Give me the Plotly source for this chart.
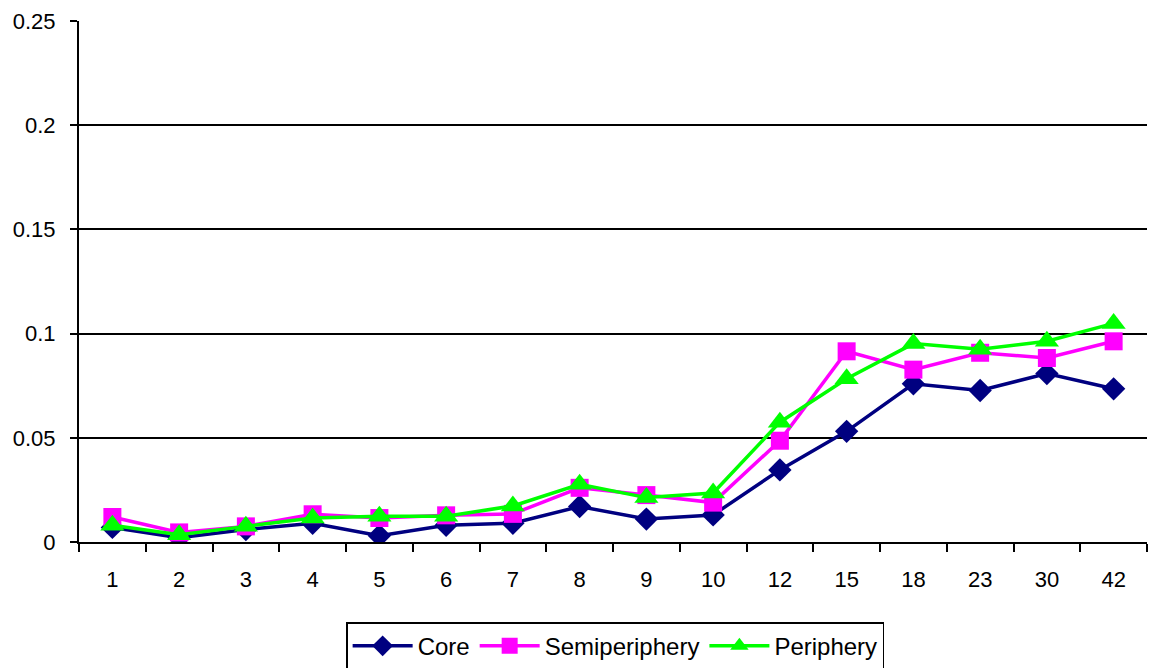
import plotly.graph_objects as go

categories = ["1", "2", "3", "4", "5", "6", "7", "8", "9", "10", "12", "15", "18", "23", "30", "42"]
core = [0.007, 0.002, 0.006, 0.009, 0.003, 0.008, 0.009, 0.017, 0.011, 0.013, 0.0346, 0.0531, 0.0759, 0.0727, 0.0808, 0.0735]
semiperiphery = [0.012, 0.0046, 0.0075, 0.0133, 0.0115, 0.0128, 0.0135, 0.026, 0.0225, 0.0189, 0.0486, 0.0915, 0.0827, 0.0908, 0.0883, 0.0963]
periphery = [0.008, 0.0035, 0.0075, 0.0115, 0.0124, 0.0124, 0.0173, 0.0277, 0.0213, 0.0235, 0.0575, 0.0783, 0.0952, 0.0925, 0.0963, 0.1049]
y_ticks = [0, 0.05, 0.1, 0.15, 0.2, 0.25]
y_tick_labels = ["0", "0.05", "0.1", "0.15", "0.2", "0.25"]

fig = go.Figure()
fig.add_trace(go.Scatter(x=categories, y=core, name="Core", mode="lines+markers",
                         line=dict(color="#000080", width=3.5),
                         marker=dict(symbol="diamond", size=18, color="#000080")))
fig.add_trace(go.Scatter(x=categories, y=semiperiphery, name="Semiperiphery", mode="lines+markers",
                         line=dict(color="#FF00FF", width=3.5),
                         marker=dict(symbol="square", size=18, color="#FF00FF")))
fig.add_trace(go.Scatter(x=categories, y=periphery, name="Periphery", mode="lines+markers",
                         line=dict(color="#00FF00", width=3.5),
                         marker=dict(symbol="triangle-up", size=21, color="#00FF00")))

fig.update_layout(
    width=1153, height=668,
    margin=dict(l=79, r=6, t=21, b=126, autoexpand=False),
    paper_bgcolor="white", plot_bgcolor="white",
    font=dict(family="Liberation Sans, Arial, sans-serif", size=22, color="black"),
    showlegend=True,
    legend=dict(orientation="h", x=0.502, xanchor="center", y=-0.154, yanchor="top",
                bordercolor="black", borderwidth=1.5, font=dict(size=24),
                itemwidth=60, tracegroupgap=0),
)
fig.update_xaxes(type="category", showline=True, linecolor="black", linewidth=2,
                 ticks="outside", tickson="boundaries", ticklen=8, tickcolor="black", tickwidth=1.5,
                 showgrid=False, range=[-0.5, 15.5], tickfont=dict(size=22),
                 ticklabelstandoff=17)
fig.update_yaxes(range=[0, 0.25], tickvals=y_ticks, ticktext=y_tick_labels,
                 showline=True, linecolor="black", linewidth=2,
                 showgrid=True, gridcolor="black", gridwidth=1.5,
                 ticks="outside", ticklen=7, tickcolor="black", tickwidth=1.5,
                 ticklabelstandoff=10, zeroline=False, tickfont=dict(size=22))

fig.write_html("out.html", config={"displayModeBar": False},
               post_script="document.body.style.margin='0';")
